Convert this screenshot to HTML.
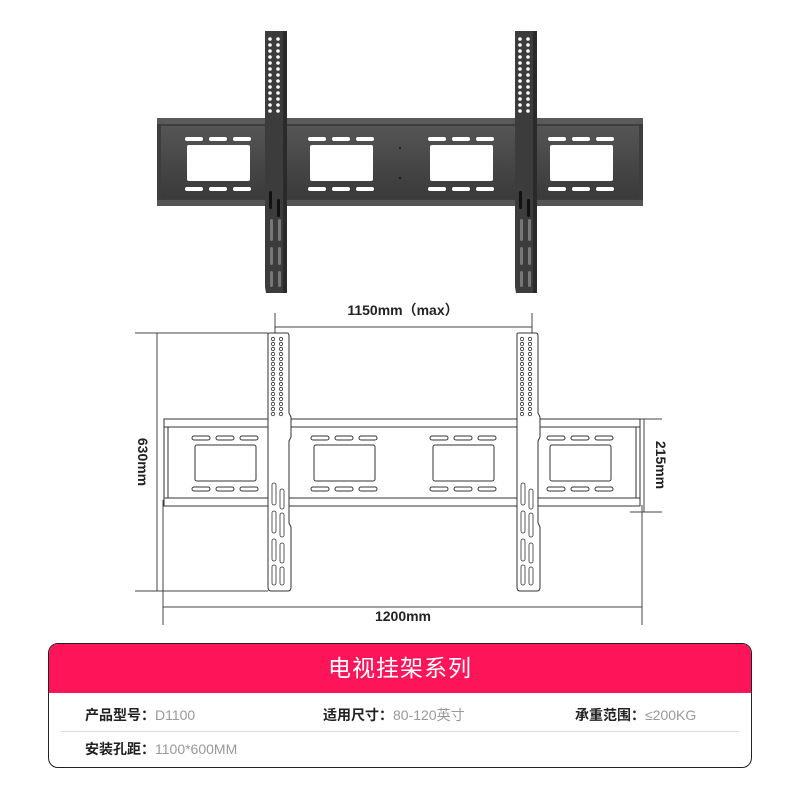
<!DOCTYPE html>
<html><head><meta charset="utf-8"><style>
html,body{margin:0;padding:0;background:#fff;}
body{width:800px;height:800px;position:relative;overflow:hidden;font-family:"Liberation Sans","Noto Sans CJK SC",sans-serif;}
.panel{position:absolute;left:48px;top:643px;width:702px;height:123px;border:1.5px solid #222;border-radius:10px;overflow:hidden;background:#fff;}
.hd{height:49px;background:#fe1559;color:#fff;font-size:23px;text-align:center;line-height:49px;letter-spacing:1px;}
.row{position:absolute;font-size:14px;color:#999;}
.row b{color:#222;font-weight:bold;}
.sep{position:absolute;left:12px;right:12px;top:87px;height:1px;background:#ddd;}
</style></head><body>
<svg width="800" height="640" style="position:absolute;left:0;top:0" xmlns="http://www.w3.org/2000/svg">
<defs>
<linearGradient id="g1" x1="0" y1="0" x2="0" y2="1"><stop offset="0" stop-color="#555"/><stop offset="1" stop-color="#3a3a3a"/></linearGradient>
<g id="pp">
 <rect x="0" y="0" width="63" height="36" rx="2" fill="#fff"/>
 <rect x="-2" y="-8" width="18" height="4" rx="2" fill="#fff"/><rect x="22" y="-8" width="18" height="4" rx="2" fill="#fff"/><rect x="46" y="-8" width="18" height="4" rx="2" fill="#fff"/>
 <rect x="-2" y="42" width="18" height="4" rx="2" fill="#fff"/><rect x="22" y="42" width="18" height="4" rx="2" fill="#fff"/><rect x="46" y="42" width="18" height="4" rx="2" fill="#fff"/>
</g>
<g id="holes">
 <circle cx="4" cy="0" r="1.8" fill="#fff"/><circle cx="12" cy="0" r="1.8" fill="#fff"/>
</g>
<g id="arm">
 <path d="M0 0 L20 0 L22 6 L22 262 L1 262 L0 256 Z" fill="#3c3c3c"/>
 <rect x="18" y="0" width="4" height="262" fill="#2a2a2a"/>
 <use href="#holes" x="1" y="8"/><use href="#holes" x="1" y="14"/><use href="#holes" x="1" y="20"/><use href="#holes" x="1" y="26"/><use href="#holes" x="1" y="32"/><use href="#holes" x="1" y="38"/><use href="#holes" x="1" y="44"/><use href="#holes" x="1" y="50"/><use href="#holes" x="1" y="56"/><use href="#holes" x="1" y="62"/><use href="#holes" x="1" y="68"/><use href="#holes" x="1" y="74"/><use href="#holes" x="1" y="80"/>
 <rect x="4" y="160" width="3" height="18" rx="1.5" fill="#111"/><rect x="12" y="168" width="3" height="18" rx="1.5" fill="#111"/>
 <rect x="5" y="188" width="3" height="22" rx="1.5" fill="#777"/><rect x="13" y="188" width="3" height="22" rx="1.5" fill="#777"/>
 <rect x="5" y="216" width="3" height="18" rx="1.5" fill="#777"/><rect x="13" y="216" width="3" height="18" rx="1.5" fill="#777"/>
 <rect x="5" y="240" width="3" height="16" rx="1.5" fill="#777"/><rect x="13" y="240" width="3" height="16" rx="1.5" fill="#777"/>
</g>
<g id="dp" fill="none" stroke="#333" stroke-width="1">
 <rect x="0" y="0" width="61" height="36" rx="2"/>
 <rect x="-3" y="-9" width="18" height="4" rx="2"/><rect x="21" y="-9" width="18" height="4" rx="2"/><rect x="45" y="-9" width="18" height="4" rx="2"/>
 <rect x="-3" y="42" width="18" height="4" rx="2"/><rect x="21" y="42" width="18" height="4" rx="2"/><rect x="45" y="42" width="18" height="4" rx="2"/>
</g>
<g id="dh" fill="none" stroke="#333" stroke-width="0.8"><circle cx="5" cy="0" r="1.7"/><circle cx="13" cy="0" r="1.7"/></g>
<g id="darm" fill="#fff" stroke="#333" stroke-width="1">
 <path d="M0 1 Q0 0 2 0 L19 0 Q21 0 21 3 L21 80 L23 84 L23 104 L21 108 L21 190 L23 194 L23 254 Q23 258 20 258 L3 258 Q0 258 0 254 Z"/>
 <g fill="none" stroke-width="0.8">
 <use href="#dh" y="6"/><use href="#dh" y="11"/><use href="#dh" y="16"/><use href="#dh" y="21"/><use href="#dh" y="26"/><use href="#dh" y="31"/><use href="#dh" y="36"/><use href="#dh" y="41"/><use href="#dh" y="46"/><use href="#dh" y="51"/><use href="#dh" y="56"/><use href="#dh" y="61"/><use href="#dh" y="66"/><use href="#dh" y="71"/><use href="#dh" y="76"/><use href="#dh" y="81"/>
 <rect x="4" y="150" width="4" height="22" rx="2"/><rect x="12" y="156" width="4" height="20" rx="2"/>
 <rect x="4" y="178" width="4" height="22" rx="2"/><rect x="12" y="180" width="4" height="24" rx="2"/>
 <rect x="4" y="206" width="4" height="22" rx="2"/><rect x="12" y="210" width="4" height="20" rx="2"/>
 <rect x="4" y="232" width="4" height="20" rx="2"/><rect x="12" y="234" width="4" height="18" rx="2"/>
 </g>
</g>
</defs>
<!-- photo -->
<rect x="157" y="118" width="486" height="88" fill="#3d3d3d"/>
<rect x="157" y="118" width="486" height="6" fill="#5a5a5a"/>
<rect x="157" y="200" width="486" height="6" fill="#555"/>
<rect x="161" y="126" width="478" height="72" fill="url(#g1)"/>
<use href="#pp" x="187" y="145"/><use href="#pp" x="310" y="145"/><use href="#pp" x="430" y="145"/><use href="#pp" x="550" y="145"/>
<circle cx="400" cy="148" r="1" fill="#111"/><circle cx="400" cy="178" r="1" fill="#111"/>
<use href="#arm" x="265" y="31"/><use href="#arm" x="515" y="31"/>
<!-- drawing -->
<g stroke="#444" stroke-width="1" fill="none">
 <line x1="135" y1="333" x2="268" y2="333"/><line x1="135" y1="591" x2="268" y2="591"/>
 <line x1="157" y1="333" x2="157" y2="591"/>
 <line x1="163" y1="500" x2="163" y2="625"/><line x1="642" y1="505" x2="642" y2="625"/>
 <line x1="163" y1="607" x2="642" y2="607"/>
 <line x1="275" y1="313" x2="275" y2="335"/><line x1="532" y1="313" x2="532" y2="335"/>
 <line x1="275" y1="327" x2="532" y2="327"/>
 <line x1="630" y1="419" x2="662" y2="419"/><line x1="630" y1="512" x2="662" y2="512"/>
 <line x1="644" y1="419" x2="644" y2="512"/>
</g>
<g fill="none" stroke="#333" stroke-width="1">
 <rect x="164" y="419" width="476" height="87"/>
 <line x1="164" y1="427" x2="640" y2="427"/><line x1="164" y1="498" x2="640" y2="498"/>
 <line x1="168" y1="427" x2="168" y2="498"/><line x1="636" y1="427" x2="636" y2="498"/>
</g>
<use href="#dp" x="195" y="445"/><use href="#dp" x="314" y="445"/><use href="#dp" x="433" y="445"/><use href="#dp" x="550" y="445"/>
<use href="#darm" x="268" y="333"/><use href="#darm" x="517" y="333"/>
<g font-family="Liberation Sans,Noto Sans CJK SC,sans-serif" font-weight="bold" font-size="14" fill="#222">
 <text x="403" y="315" text-anchor="middle">1150mm（max）</text>
 <text x="403" y="621" text-anchor="middle">1200mm</text>
 <text transform="translate(138,462) rotate(90)" text-anchor="middle">630mm</text>
 <text transform="translate(656,465) rotate(90)" text-anchor="middle">215mm</text>
</g>
</svg>
<div class="panel">
 <div class="hd">电视挂架系列</div>
 <div class="row" style="left:36px;top:61px"><b>产品型号：</b>D1100</div>
 <div class="row" style="left:274px;top:61px"><b>适用尺寸：</b>80-120英寸</div>
 <div class="row" style="left:526px;top:61px"><b>承重范围：</b>≤200KG</div>
 <div class="sep"></div>
 <div class="row" style="left:36px;top:95px"><b>安装孔距：</b>1100*600MM</div>
</div>
</body></html>
